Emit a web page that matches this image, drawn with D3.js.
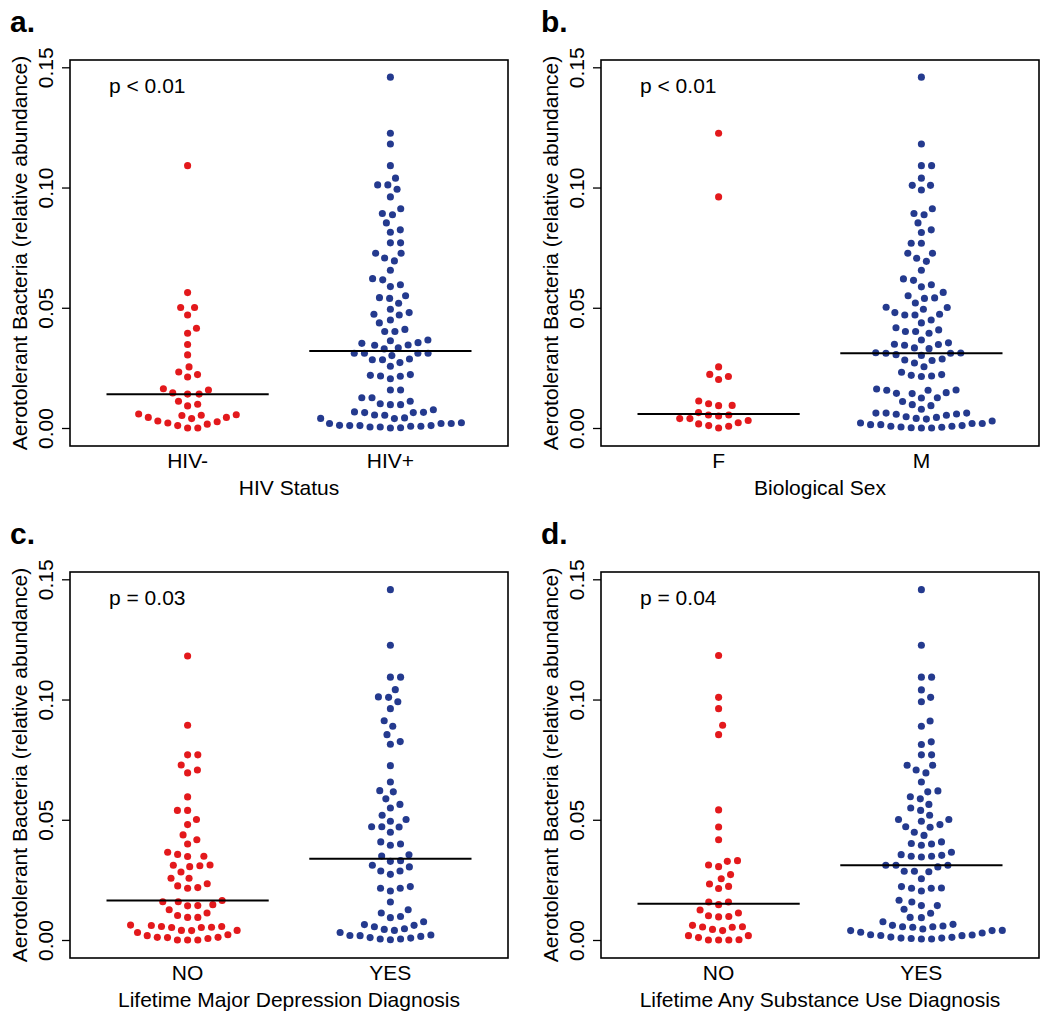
<!DOCTYPE html>
<html>
<head>
<meta charset="utf-8">
<script src="https://cdn.jsdelivr.net/npm/d3@7"></script>
<style>
  html, body { margin: 0; padding: 0; background: #fff; }
  svg text { font-family: "Liberation Sans", Arial, Helvetica, sans-serif; fill: #000; }
</style>
</head>
<body>
<svg id="chart" width="1050" height="1019"></svg>
<script>
// ---------------- DATA ----------------
const panelLetters = ["a.", "b.", "c.", "d."];
const pValues = ["p < 0.01", "p < 0.01", "p = 0.03", "p = 0.04"];
const axisTitles = ["HIV Status", "Biological Sex", "Lifetime Major Depression Diagnosis", "Lifetime Any Substance Use Diagnosis"];
const yTitle = "Aerotolerant Bacteria (relative abundance)";
const categoriesA = ["HIV-", "HIV+"];
const categoriesB = ["F", "M"];
const categoriesC = ["NO", "YES"];
const categoriesD = ["NO", "YES"];
const yTickValues = [0, 0.05, 0.10, 0.15];
const yTickLabels = ["0.00", "0.05", "0.10", "0.15"];

// panel a
const hivNeg = [0.1091, 0.0563, 0.0501, 0.0501, 0.0470, 0.0415, 0.0394, 0.0347, 0.0304, 0.0254,
  0.0233, 0.0222, 0.0212, 0.0163, 0.0158, 0.0146, 0.0141, 0.0141, 0.0111, 0.0099, 0.0092,
  0.0058, 0.0055, 0.0053, 0.0052, 0.0044, 0.0039, 0.0044, 0.0029, 0.0026, 0.0021, 0.0016,
  0.0010, 0.0000, 0.0000];
const hivPos = [0.1459, 0.1226, 0.1181, 0.1091, 0.1039, 0.1011, 0.1011, 0.0993, 0.0961, 0.0912,
  0.0892, 0.0887, 0.0853, 0.0814, 0.0824, 0.0770, 0.0770, 0.0727, 0.0727, 0.0707, 0.0695,
  0.0656, 0.0621, 0.0616, 0.0588, 0.0596, 0.0550, 0.0542, 0.0519, 0.0539, 0.0494, 0.0480,
  0.0473, 0.0470, 0.0449, 0.0437, 0.0410, 0.0401, 0.0401, 0.0366, 0.0363, 0.0355, 0.0352,
  0.0345, 0.0344, 0.0334, 0.0329, 0.0311, 0.0311, 0.0311, 0.0311, 0.0301, 0.0284, 0.0284,
  0.0272, 0.0287, 0.0257, 0.0219, 0.0216, 0.0205, 0.0215, 0.0222, 0.0158, 0.0158, 0.0126,
  0.0126, 0.0111, 0.0097, 0.0097, 0.0101, 0.0076, 0.0064, 0.0064, 0.0065, 0.0067, 0.0054,
  0.0053, 0.0042, 0.0039, 0.0040, 0.0022, 0.0019, 0.0019, 0.0010, 0.0010, 0.0004, 0.0004,
  0.0000, 0.0001, 0.0007, 0.0007, 0.0010, 0.0011, 0.0019];
// panel b
const sexF = [0.1226, 0.0961, 0.0254, 0.0223, 0.0214, 0.0202, 0.0112, 0.0094, 0.0093, 0.0101,
  0.0064, 0.0039, 0.0022, 0.0010, 0.0000, 0.0007, 0.0017, 0.0031, 0.0054, 0.0050, 0.0039, 0.0054];
const sexM = [0.1459, 0.1181, 0.1091, 0.1091, 0.1039, 0.1009, 0.1009, 0.0990, 0.0912, 0.0892,
  0.0887, 0.0853, 0.0813, 0.0824, 0.0768, 0.0768, 0.0727, 0.0727, 0.0706, 0.0693, 0.0656,
  0.0620, 0.0614, 0.0587, 0.0596, 0.0564, 0.0550, 0.0539, 0.0541, 0.0520, 0.0501, 0.0502,
  0.0494, 0.0480, 0.0470, 0.0470, 0.0473, 0.0449, 0.0437, 0.0417, 0.0401, 0.0401, 0.0408,
  0.0394, 0.0366, 0.0354, 0.0347, 0.0344, 0.0348, 0.0330, 0.0333, 0.0313, 0.0311, 0.0305,
  0.0312, 0.0311, 0.0302, 0.0283, 0.0281, 0.0287, 0.0270, 0.0255, 0.0232, 0.0219, 0.0214,
  0.0216, 0.0222, 0.0158, 0.0144, 0.0157, 0.0143, 0.0157, 0.0147, 0.0162, 0.0125, 0.0126,
  0.0110, 0.0097, 0.0093, 0.0078, 0.0062, 0.0062, 0.0058, 0.0047, 0.0044, 0.0037, 0.0040,
  0.0053, 0.0057, 0.0062, 0.0029, 0.0019, 0.0014, 0.0010, 0.0007, 0.0003, 0.0001, 0.0000,
  0.0000, 0.0004, 0.0007, 0.0014, 0.0019, 0.0021];
// panel c
const depNo = [0.1181, 0.0893, 0.0770, 0.0770, 0.0728, 0.0695, 0.0707, 0.0595, 0.0539, 0.0539,
  0.0501, 0.0480, 0.0437, 0.0417, 0.0399, 0.0365, 0.0356, 0.0347, 0.0348, 0.0312, 0.0309,
  0.0305, 0.0311, 0.0283, 0.0257, 0.0257, 0.0225, 0.0215, 0.0218, 0.0234, 0.0159, 0.0159,
  0.0164, 0.0142, 0.0143, 0.0147, 0.0126, 0.0102, 0.0094, 0.0094, 0.0112, 0.0062, 0.0056,
  0.0056, 0.0053, 0.0040, 0.0040, 0.0052, 0.0052, 0.0060, 0.0031, 0.0018, 0.0011, 0.0010,
  0.0000, 0.0000, 0.0000, 0.0006, 0.0011, 0.0022, 0.0039];
const depYes = [0.1457, 0.1226, 0.1093, 0.1093, 0.1041, 0.1011, 0.1009, 0.0991, 0.0962, 0.0912,
  0.0889, 0.0854, 0.0814, 0.0825, 0.0725, 0.0657, 0.0621, 0.0616, 0.0587, 0.0549, 0.0564,
  0.0519, 0.0501, 0.0494, 0.0471, 0.0471, 0.0470, 0.0448, 0.0408, 0.0394, 0.0399, 0.0349,
  0.0354, 0.0327, 0.0330, 0.0311, 0.0304, 0.0287, 0.0273, 0.0287, 0.0222, 0.0215, 0.0204,
  0.0215, 0.0158, 0.0112, 0.0093, 0.0098, 0.0126, 0.0064, 0.0055, 0.0044, 0.0040, 0.0047,
  0.0061, 0.0076, 0.0021, 0.0018, 0.0010, 0.0004, 0.0001, 0.0004, 0.0008, 0.0015, 0.0019,
  0.0031];
// panel d
const subNo = [0.1183, 0.1009, 0.0962, 0.0893, 0.0854, 0.0541, 0.0470, 0.0417, 0.0327, 0.0312,
  0.0305, 0.0330, 0.0272, 0.0233, 0.0214, 0.0223, 0.0255, 0.0158, 0.0147, 0.0158, 0.0125,
  0.0101, 0.0096, 0.0098, 0.0112, 0.0061, 0.0054, 0.0044, 0.0039, 0.0053, 0.0055, 0.0018,
  0.0010, 0.0000, 0.0000, 0.0000, 0.0001, 0.0018];
const subYes = [0.1457, 0.1226, 0.1093, 0.1093, 0.1040, 0.1009, 0.0991, 0.0911, 0.0889, 0.0824,
  0.0813, 0.0770, 0.0770, 0.0727, 0.0727, 0.0707, 0.0695, 0.0657, 0.0620, 0.0616, 0.0596,
  0.0587, 0.0564, 0.0549, 0.0539, 0.0519, 0.0501, 0.0501, 0.0494, 0.0480, 0.0471, 0.0469,
  0.0448, 0.0435, 0.0408, 0.0401, 0.0394, 0.0399, 0.0365, 0.0355, 0.0348, 0.0345, 0.0348,
  0.0352, 0.0311, 0.0311, 0.0311, 0.0304, 0.0286, 0.0286, 0.0284, 0.0255, 0.0216, 0.0215,
  0.0204, 0.0215, 0.0222, 0.0143, 0.0143, 0.0158, 0.0165, 0.0111, 0.0128, 0.0093, 0.0094,
  0.0065, 0.0058, 0.0055, 0.0046, 0.0040, 0.0053, 0.0055, 0.0061, 0.0076, 0.0039, 0.0032,
  0.0022, 0.0019, 0.0011, 0.0008, 0.0006, 0.0004, 0.0004, 0.0008, 0.0012, 0.0018, 0.0021,
  0.0029, 0.0039];
// medians (horizontal bars)
const mediansA = [0.0140, 0.0320];
const mediansB = [0.0058, 0.0311];
const mediansC = [0.0164, 0.0338];
const mediansD = [0.0151, 0.0311];

const groupColors = ["#E3191C", "#243A8E"];

// ---------------- LAYOUT ----------------
const panels = [
  { ox: 0,   oy: 0,   cats: categoriesA, groups: [hivNeg, hivPos], medians: mediansA },
  { ox: 531, oy: 0,   cats: categoriesB, groups: [sexF, sexM],     medians: mediansB },
  { ox: 0,   oy: 512, cats: categoriesC, groups: [depNo, depYes],  medians: mediansC },
  { ox: 531, oy: 512, cats: categoriesD, groups: [subNo, subYes],  medians: mediansD }
];
const box = { left: 70, right: 508, top: 60, bottom: 446 };
const FS = 21;
const D = 10.2;     // swarm spacing (px)
const R = 3.55;     // dot radius

const svg = d3.select("#chart");
svg.append("rect").attr("width", 1050).attr("height", 1019).attr("fill", "#fff");

// R beeswarm "swarm" method (priority ascending)
function swarm(values, yPix, d) {
  const pts = values.map((v, i) => ({ v, i, py: yPix(v), off: 0 }));
  const order = pts.slice().sort((a, b) => a.v - b.v || a.i - b.i);
  const placed = [];
  for (const p of order) {
    const near = placed.filter(q => Math.abs(p.py - q.py) < d);
    if (!near.length) { p.off = 0; placed.push(p); continue; }
    near.sort((a, b) => Math.abs(a.off) - Math.abs(b.off));
    const cands = [0];
    near.forEach(q => cands.push(q.off + Math.sqrt(d * d - (p.py - q.py) ** 2)));
    near.forEach(q => cands.push(q.off - Math.sqrt(d * d - (p.py - q.py) ** 2)));
    let best = null;
    for (const c of cands) {
      const bad = near.some(q => (p.py - q.py) ** 2 + (c - q.off) ** 2 < 0.999 * d * d);
      if (!bad && (best === null || Math.abs(c) < Math.abs(best))) best = c;
    }
    p.off = best;
    placed.push(p);
  }
  return pts;
}

panels.forEach((P, pi) => {
  const g = svg.append("g").attr("transform", `translate(${P.ox},${P.oy})`);
  const x = d3.scaleLinear().domain([0.42, 2.58]).range([box.left, box.right]);
  const y = d3.scaleLinear().domain([0, 0.15]).range([428, 67.3]);

  // panel letter
  g.append("text").attr("x", 10).attr("y", 32)
    .attr("font-size", 30).attr("font-weight", "bold").text(panelLetters[pi]);

  // points
  P.groups.forEach((vals, gi) => {
    const pts = swarm(vals, y, D);
    g.append("g").selectAll("circle").data(pts).join("circle")
      .attr("cx", dd => x(gi + 1) + dd.off)
      .attr("cy", dd => dd.py)
      .attr("r", R)
      .attr("fill", groupColors[gi]);
  });

  // median bars
  g.append("g").selectAll("line").data(P.medians).join("line")
    .attr("x1", (m, i) => x(i + 1 - 0.4))
    .attr("x2", (m, i) => x(i + 1 + 0.4))
    .attr("y1", m => y(m)).attr("y2", m => y(m))
    .attr("stroke", "#000").attr("stroke-width", 2);

  // box
  g.append("rect").attr("x", box.left).attr("y", box.top)
    .attr("width", box.right - box.left).attr("height", box.bottom - box.top)
    .attr("fill", "none").attr("stroke", "#000").attr("stroke-width", 1.6);

  // y axis
  const yAxis = d3.axisLeft(y).tickValues(yTickValues)
    .tickFormat((v, i) => yTickLabels[i]).tickSize(8).tickPadding(0);
  const ya = g.append("g").attr("transform", `translate(${box.left},0)`).call(yAxis);
  ya.select(".domain").remove();
  ya.selectAll(".tick line").attr("stroke", "#000").attr("stroke-width", 1.3);
  ya.selectAll(".tick text")
    .attr("font-size", FS).attr("font-family", "Liberation Sans, Arial, sans-serif")
    .attr("x", 0).attr("dy", 0)
    .attr("text-anchor", "middle")
    .attr("transform", "translate(-17,0) rotate(-90)")
    .attr("fill", "#000");

  // y title
  g.append("text")
    .attr("transform", `translate(27,${(box.top + box.bottom) / 2}) rotate(-90)`)
    .attr("text-anchor", "middle").attr("font-size", FS).text(yTitle);

  // x category labels
  g.append("g").selectAll("text").data(P.cats).join("text")
    .attr("x", (c, i) => x(i + 1)).attr("y", 468)
    .attr("text-anchor", "middle").attr("font-size", FS).text(c => c);

  // x title
  g.append("text").attr("x", (box.left + box.right) / 2).attr("y", 495)
    .attr("text-anchor", "middle").attr("font-size", FS).text(axisTitles[pi]);

  // p-value
  g.append("text").attr("x", 109).attr("y", 93)
    .attr("font-size", FS).text(pValues[pi]);
});
</script>
</body>
</html>
